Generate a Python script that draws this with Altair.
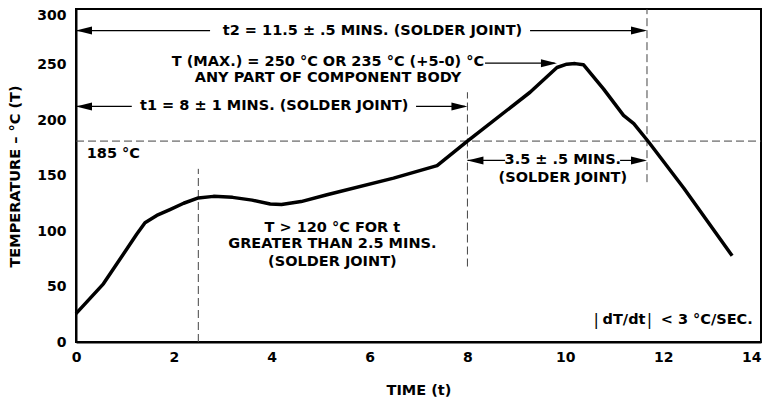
import altair as alt
import pandas as pd

# ---- data ----
time = [0, 0.56, 1.24, 1.41, 1.65, 1.92, 2.2, 2.5, 2.81, 3.2, 3.6, 3.97, 4.2, 4.6, 5.13,
        6.49, 7.38, 8.0, 9.28, 9.83, 10.03, 10.2, 10.37, 10.78, 11.19, 11.4, 11.7, 12.42, 13.41]
temp = [25.6, 52.4, 97, 107.4, 114, 119.3, 125, 129.8, 131.2, 130.3, 127.8, 124.4, 123.8, 126.5, 132.7,
        147.6, 158.9, 181, 225, 247.3, 250.3, 250.8, 249.8, 228, 204.2, 196.7, 180.4, 138.7, 77.7]

x_ticks = [0, 2, 4, 6, 8, 10, 12, 14]
y_ticks = [0, 50, 100, 150, 200, 250, 300]

# dashed reference lines
hdash_y = [181]
hdash_x1 = [0]
hdash_x2 = [14]
vdash_x = [2.5, 8.0, 11.67]
vdash_y1 = [0, 68, 144]
vdash_y2 = [156, 225, 300]

# arrow shafts
shaft_x1 = [0, 9.28, 0, 6.95, 8.36, 8.0, 11.12]
shaft_x2 = [2.74, 11.62, 1.14, 7.95, 9.78, 8.77, 11.62]
shaft_y = [280.6, 280.6, 212.2, 212.2, 251.2, 163.6, 163.6]

# arrow heads
lhead_x = [0, 0, 8.0]
lhead_y = [280.6, 212.2, 163.6]
rhead_x = [11.67, 8.0, 9.83, 11.67]
rhead_y = [280.6, 212.2, 251.2, 163.6]

# centred annotation text
ctext = ["t2 = 11.5 ± .5 MINS. (SOLDER JOINT)",
         "T (MAX.) = 250 °C OR 235 °C (+5-0) °C",
         "ANY PART OF COMPONENT BODY",
         "t1 = 8 ± 1 MINS. (SOLDER JOINT)",
         "3.5 ± .5 MINS.",
         "(SOLDER JOINT)",
         "T > 120 °C FOR t",
         "GREATER THAN 2.5 MINS.",
         "(SOLDER JOINT)",
         "dT/dt"]
ctext_x = [6.06, 5.15, 5.15, 4.05, 9.95, 9.95, 5.24, 5.24, 5.24, 11.2]
ctext_y = [280.6, 252.4, 237.5, 212.2, 163.6, 147.6, 103, 88.1, 71.7, 19.6]

# left-aligned annotation text
ltext = ["185 °C", "< 3 °C/SEC."]
ltext_x = [0.22, 11.95]
ltext_y = [169.2, 19.6]

# thin bars of |dT/dt|
bar_x = [10.63, 11.72]
bar_y = [19.6, 19.6]

FONT = "DejaVu Sans"

curve_df = pd.DataFrame({"t": time, "T": temp})
hdash_df = pd.DataFrame({"x1": hdash_x1, "x2": hdash_x2, "y": hdash_y})
vdash_df = pd.DataFrame({"x": vdash_x, "y1": vdash_y1, "y2": vdash_y2})
shaft_df = pd.DataFrame({"x1": shaft_x1, "x2": shaft_x2, "y": shaft_y})
lhead_df = pd.DataFrame({"x": lhead_x, "y": lhead_y})
rhead_df = pd.DataFrame({"x": rhead_x, "y": rhead_y})
ctext_df = pd.DataFrame({"x": ctext_x, "y": ctext_y, "label": ctext})
ltext_df = pd.DataFrame({"x": ltext_x, "y": ltext_y, "label": ltext})
bar_df = pd.DataFrame({"x": bar_x, "y": bar_y, "label": ["|", "|"]})

xscale = alt.Scale(domain=[0, 14], nice=False, zero=False)
yscale = alt.Scale(domain=[0, 300], nice=False, zero=False)
xaxis = alt.Axis(values=x_ticks, title="TIME (t)", ticks=False, grid=False,
                 labelFlush=False, labelPadding=8, titleY=48, titleBaseline="middle",
                 labelAlign={"condition": {"test": "datum.value === 14", "value": "right"},
                             "value": "center"})
yaxis = alt.Axis(values=y_ticks, title="TEMPERATURE – °C (T)", ticks=False, grid=False,
                 labelPadding=10, titleX=-61, titleY=167, titleBaseline="middle",
                 titleAngle=-90, titleAlign="center",
                 labelOffset={"condition": {"test": "datum.value === 300", "value": 6.5},
                              "value": 0})


def X(f):
    return alt.X(f, scale=xscale, axis=xaxis)


def Y(f):
    return alt.Y(f, scale=yscale, axis=yaxis)


curve = alt.Chart(curve_df).mark_line(color="black", strokeWidth=3.5, strokeJoin="round").encode(
    x=X("t:Q"), y=Y("T:Q"))

hdash = alt.Chart(hdash_df).mark_rule(color="#444", strokeWidth=1, strokeDash=[8, 4]).encode(
    x=X("x1:Q"), x2="x2:Q", y=Y("y:Q"))

vdash = alt.Chart(vdash_df).mark_rule(color="#444", strokeWidth=1, strokeDash=[8, 4]).encode(
    x=X("x:Q"), y=Y("y1:Q"), y2="y2:Q")

shafts = alt.Chart(shaft_df).mark_rule(color="black", strokeWidth=1.2).encode(
    x=X("x1:Q"), x2="x2:Q", y=Y("y:Q"))

lheads = alt.Chart(lhead_df).mark_point(shape="M0,0L4,-1L4,1Z", filled=True, color="black",
                                        size=64, opacity=1, strokeWidth=0).encode(
    x=X("x:Q"), y=Y("y:Q"))

rheads = alt.Chart(rhead_df).mark_point(shape="M0,0L-4,-1L-4,1Z", filled=True, color="black",
                                        size=64, opacity=1, strokeWidth=0).encode(
    x=X("x:Q"), y=Y("y:Q"))

ctexts = alt.Chart(ctext_df).mark_text(font=FONT, fontSize=14.5, fontWeight="bold", color="black",
                                       align="center", baseline="middle").encode(
    x=X("x:Q"), y=Y("y:Q"), text="label:N")

ltexts = alt.Chart(ltext_df).mark_text(font=FONT, fontSize=14.5, fontWeight="bold", color="black",
                                       align="left", baseline="middle").encode(
    x=X("x:Q"), y=Y("y:Q"), text="label:N")

bars = alt.Chart(bar_df).mark_text(font=FONT, fontSize=16, fontWeight="normal", color="black",
                                   align="center", baseline="middle").encode(
    x=X("x:Q"), y=Y("y:Q"), text="label:N")

chart = alt.layer(hdash, vdash, shafts, lheads, rheads, ctexts, ltexts, bars, curve).properties(
    width=685, height=333,
    autosize=alt.AutoSizeParams(type="none"),
    padding={"left": 68, "top": 1, "right": 1, "bottom": 56},
).configure_view(
    stroke="black", strokeWidth=2
).configure_axis(
    domainColor="black", domainWidth=2,
    labelFont=FONT, labelFontSize=14, labelFontWeight="bold", labelColor="black",
    titleFont=FONT, titleFontSize=14.5, titleFontWeight="bold", titleColor="black",
)

chart.save("out.html", embed_options={"renderer": "svg", "actions": False})
